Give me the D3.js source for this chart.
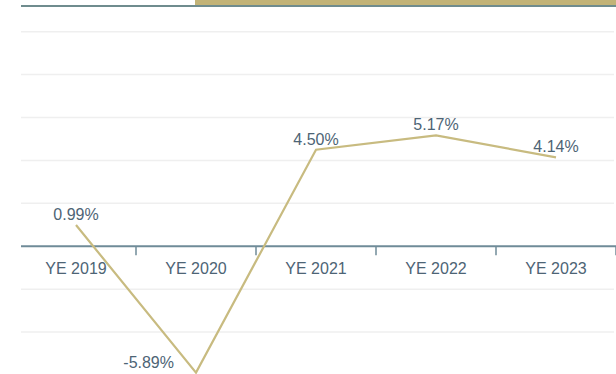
<!DOCTYPE html>
<html>
<head>
<meta charset="utf-8">
<script src="https://cdn.jsdelivr.net/npm/d3@7"></script>
<style>
  html, body { margin: 0; padding: 0; background: #ffffff; }
  svg { display: block; }
  text { font-family: "Liberation Sans", Arial, Helvetica, sans-serif; }
</style>
</head>
<body>
<svg id="chart" width="616" height="374"></svg>
<script>
// Year-end returns
const categories = ["YE 2019", "YE 2020", "YE 2021", "YE 2022", "YE 2023"];
const returns = [0.99, -5.89, 4.50, 5.17, 4.14];
const gridValues = [-4, -2, 2, 4, 6, 8, 10];

const W = 616, H = 374;
const svg = d3.select("#chart");

const x = d3.scaleBand().domain(categories).range([16, 616]);
const y = d3.scaleLinear().domain([-6, 10]).range([375, 31.7]);

const textColor = "#4d6475";
const axisColor = "#6f8b98";
const lineColor = "#c8bb80";
const plotLeft = 21;

// Header strip
svg.append("rect").attr("x", 195).attr("y", 0).attr("width", W - 195).attr("height", 5)
  .attr("fill", "#c2b377");
svg.append("line").attr("x1", plotLeft).attr("x2", W).attr("y1", 6).attr("y2", 6)
  .attr("stroke", "#6f8c8e").attr("stroke-width", 2);

// Horizontal gridlines
svg.append("g").selectAll("line").data(gridValues).join("line")
  .attr("x1", plotLeft).attr("x2", W - 2)
  .attr("y1", d => y(d)).attr("y2", d => y(d))
  .attr("stroke", "#efefef").attr("stroke-width", 1.5);

// Category axis at zero
const axisY = y(0);
svg.append("line").attr("x1", plotLeft).attr("x2", W).attr("y1", axisY).attr("y2", axisY)
  .attr("stroke", axisColor).attr("stroke-width", 2);

svg.append("g").selectAll("line").data(categories).join("line")
  .attr("x1", d => x(d) + x.bandwidth()).attr("x2", d => x(d) + x.bandwidth())
  .attr("y1", axisY).attr("y2", axisY + 9)
  .attr("stroke", axisColor).attr("stroke-width", 1.5);

const axis = d3.axisBottom(x).tickSize(0).tickPadding(0);
const gAxis = svg.append("g").attr("transform", `translate(0,${axisY})`).call(axis);
gAxis.select(".domain").remove();
gAxis.selectAll("text")
  .attr("y", 28).attr("dy", null)
  .attr("fill", textColor).attr("font-size", 16)
  .style("font-family", "'Liberation Sans', Arial, sans-serif");

// Return line
const cx = d => x(d) + x.bandwidth() / 2;
const line = d3.line().x((d, i) => cx(categories[i])).y(d => y(d));
svg.append("path").datum(returns)
  .attr("d", line)
  .attr("fill", "none").attr("stroke", lineColor).attr("stroke-width", 2.2)
  .attr("stroke-linejoin", "miter");

// Value labels
const fmt = d => d.toFixed(2) + "%";
svg.append("g").selectAll("text").data(returns).join("text")
  .attr("x", (d, i) => d < 0 ? cx(categories[i]) - 22 : cx(categories[i]))
  .attr("y", d => d < 0 ? y(d) - 5 : y(d) - 5)
  .attr("text-anchor", d => d < 0 ? "end" : "middle")
  .attr("fill", textColor).attr("font-size", 16)
  .text(fmt);
</script>
</body>
</html>
